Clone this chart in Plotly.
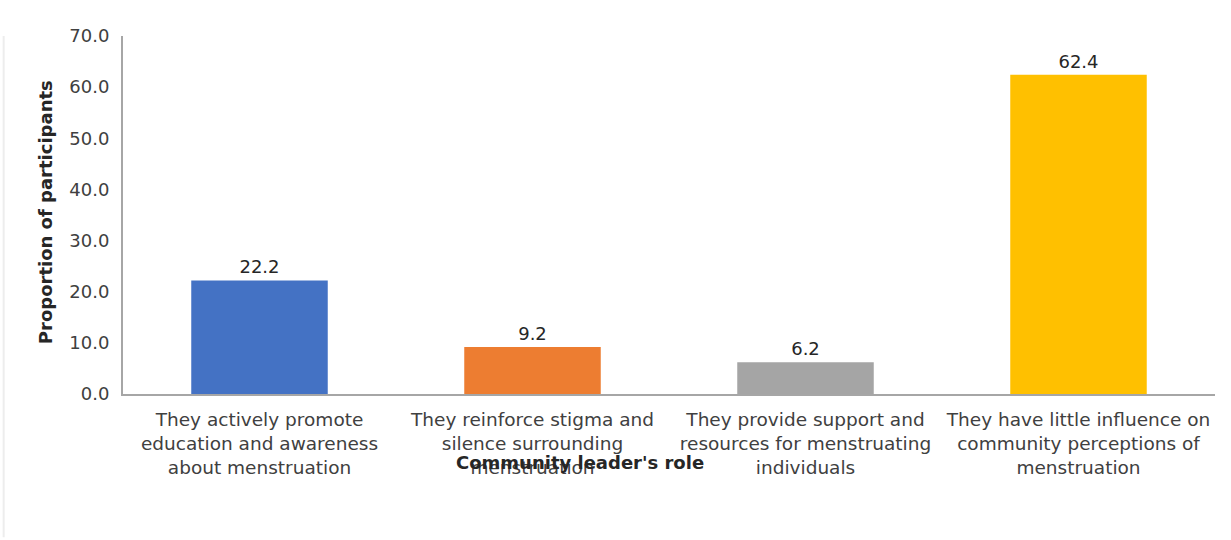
import plotly.graph_objects as go

# Survey responses: perceived role of community leaders
roles = [
    "They actively promote<br>education and awareness<br>about menstruation",
    "They reinforce stigma and<br>silence surrounding<br>menstruation",
    "They provide support and<br>resources for menstruating<br>individuals",
    "They have little influence on<br>community perceptions of<br>menstruation",
]
proportions = [22.2, 9.2, 6.2, 62.4]
bar_colors = ["#4472C4", "#ED7D31", "#A5A5A5", "#FFC000"]
y_ticks = [0, 10, 20, 30, 40, 50, 60, 70]

FONT = "DejaVu Sans"

fig = go.Figure(
    go.Bar(
        x=roles,
        y=proportions,
        marker=dict(color=bar_colors, line=dict(width=0)),
        text=[f"{v:.1f}" for v in proportions],
        textposition="outside",
        textfont=dict(family=FONT, size=18, color="#262626"),
        cliponaxis=False,
    )
)

fig.update_layout(
    width=1231,
    height=540,
    margin=dict(l=123, r=16, t=36, b=146),
    paper_bgcolor="white",
    plot_bgcolor="white",
    bargap=0.5,
    showlegend=False,
    font=dict(family=FONT, size=18, color="#404040"),
    xaxis=dict(
        showline=True,
        linecolor="#A6A6A6",
        linewidth=2,
        ticks="",
        showgrid=False,
        tickfont=dict(family=FONT, size=18.5, color="#404040"),
        ticklabelstandoff=8,
    ),
    yaxis=dict(
        range=[0, 70],
        tickvals=y_ticks,
        tickformat=".1f",
        showline=True,
        linecolor="#A6A6A6",
        linewidth=2,
        ticks="",
        showgrid=False,
        zeroline=False,
        tickfont=dict(family=FONT, size=18, color="#404040"),
        ticklabelstandoff=8,
    ),
    annotations=[
        dict(
            text="<b>Proportion of participants</b>",
            xref="paper", yref="paper",
            x=-0.0714, y=0.508,
            textangle=-90,
            showarrow=False,
            font=dict(family=FONT, size=18, color="#262626"),
            xanchor="center", yanchor="middle",
        ),
        dict(
            text="<b>Community leader's role</b>",
            xref="paper", yref="paper",
            x=0.4185, y=-0.19,
            showarrow=False,
            font=dict(family=FONT, size=18, color="#262626"),
            xanchor="center", yanchor="middle",
        ),
    ],
    shapes=[
        dict(
            type="line", xref="paper", yref="paper",
            x0=-0.1093, x1=-0.1093, y0=-0.4, y1=1.0,
            line=dict(color="#EDEDED", width=2),
        ),
    ],
)

fig.write_html("out.html")
